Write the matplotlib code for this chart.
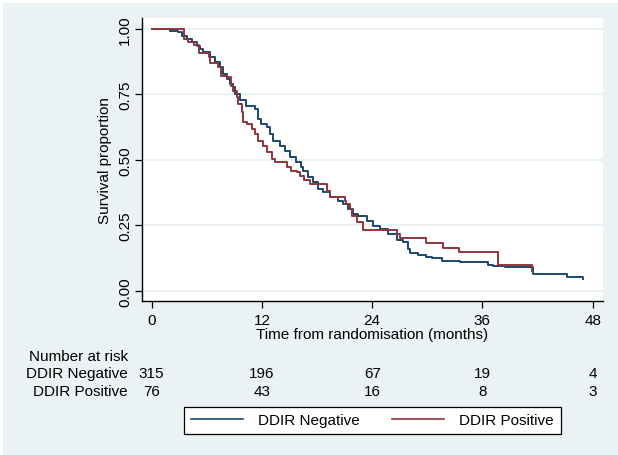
import matplotlib
matplotlib.use("Agg")
import matplotlib.pyplot as plt
from matplotlib.lines import Line2D
from matplotlib.patches import Rectangle

plt.rcParams['font.family'] = ['Liberation Sans', 'DejaVu Sans']

# ---- data ----
neg_time = [0, 2.0, 2.9, 3.3, 3.8, 4.35, 4.9, 5.3, 5.6, 6.35, 6.9, 7.45, 7.8, 8.2,
            8.55, 8.85, 9.1, 9.6, 10.3, 11.2, 11.6, 11.95, 12.5, 12.9, 13.25, 13.95,
            14.5, 15.05, 15.75, 16.2, 16.5, 17.05, 17.6, 18.15, 18.7, 19.4, 20.3,
            20.85, 21.4, 21.95, 22.5, 23.4, 24.1, 24.85, 25.75, 26.7, 27.4, 27.9,
            28.1, 29.0, 29.9, 30.5, 31.6, 33.6, 36.6, 37.2, 38.5, 41.5, 45.2, 46.9]
neg_surv = [1.0, .994, .987, .974, .962, .949, .936, .924, .911, .892, .873, .854,
            .828, .809, .790, .777, .752, .730, .707, .694, .656, .637, .624, .599,
            .573, .554, .535, .510, .490, .474, .459, .436, .414, .389, .376, .357,
            .344, .331, .312, .293, .287, .267, .248, .236, .217, .194, .185, .159,
            .143, .138, .130, .124, .115, .108, .099, .093, .089, .064, .051, .045]

pos_time = [0, 3.55, 4.0, 4.6, 5.1, 5.2, 6.2, 6.4, 7.25, 7.55, 8.15, 8.6, 8.9, 9.25,
            9.43, 9.8, 9.97, 10.34, 10.9, 11.24, 11.6, 12.15, 12.5, 13.06, 13.4, 14.7,
            15.2, 15.78, 16.1, 16.6, 17.2, 19.1, 19.4, 21.0, 21.2, 21.6, 21.8, 22.3,
            23.0, 26.7, 27.0, 29.9, 31.7, 33.4, 37.7, 41.4]
pos_surv = [1.0, .962, .949, .940, .924, .907, .892, .869, .856, .822, .815, .783,
            .764, .739, .713, .682, .643, .637, .618, .599, .573, .554, .529, .503,
            .490, .472, .459, .452, .440, .424, .408, .382, .357, .344, .331, .312,
            .287, .261, .233, .217, .200, .182, .163, .147, .099, .076]

groups = ["DDIR Negative", "DDIR Positive"]
risk_times = [0, 12, 24, 36, 48]
risk_neg = [315, 196, 67, 19, 4]
risk_pos = [76, 43, 16, 8, 3]
y_ticks = [0.0, 0.25, 0.5, 0.75, 1.0]
y_ticklabels = ["0.00", "0.25", "0.50", "0.75", "1.00"]

BG = "#EAF2F3"
BLUE = "#1a476f"
RED = "#90353b"
W, H = 618, 456
FS = 11

fig = plt.figure(figsize=(W / 100, H / 100), dpi=100)
fig.patch.set_facecolor("white")
fig.patches.append(Rectangle((3 / W, 0), 1, 1 - 4 / H, transform=fig.transFigure,
                             facecolor=BG, edgecolor="none", zorder=-10))

L, R, T, B = 141.7, 602.7, 18.5, 301.7
ax = fig.add_axes([L / W, 1 - B / H, (R - L) / W, (B - T) / H])
ax.set_facecolor("white")

ax.step(neg_time, neg_surv, where="post", color=BLUE, lw=1.4, zorder=3)
ax.step(pos_time, pos_surv, where="post", color=RED, lw=1.4, zorder=3)

ax.set_xlim(-1.088, 49.09)
ax.set_ylim(-0.0382, 1.044)
ax.set_xticks(risk_times)
ax.set_xticklabels([str(t) for t in risk_times], fontsize=FS)
ax.set_yticks(y_ticks)
ax.set_yticklabels(y_ticklabels, fontsize=FS, rotation=90, va="center")
ax.tick_params(axis="both", direction="out", length=5, width=0.9, color="black")
ax.tick_params(axis="x", pad=4)
ax.tick_params(axis="y", pad=2)
ax.grid(axis="y", color=BG, lw=1.5, zorder=0)
ax.set_axisbelow(True)
for s in ["top", "right"]:
    ax.spines[s].set_visible(False)
for s in ["left", "bottom"]:
    ax.spines[s].set_linewidth(1.0)
    ax.spines[s].set_color("black")

ax.set_ylabel("Survival proportion", fontsize=FS)
ax.yaxis.set_label_coords((112.5 - L) / (R - L), 0.5)

def fy(py):
    return 1 - py / H

fig.text(372.2 / W, fy(335), "Time from randomisation (months)", fontsize=FS,
         ha="center", va="center")

# number at risk table
xlab = 128 / W
fig.text(xlab, fy(357.3), "Number at risk", fontsize=FS, ha="right", va="center")
for lbl, vals, py in [(groups[0], risk_neg, 374), (groups[1], risk_pos, 392)]:
    fig.text(xlab, fy(py), lbl, fontsize=FS, ha="right", va="center")
    for t, v in zip(risk_times, vals):
        px = ax.transData.transform((t, 0))[0]
        fig.text(px / W, fy(py), str(v), fontsize=FS, ha="center", va="center")

handles = [Line2D([], [], color=BLUE, lw=1.2), Line2D([], [], color=RED, lw=1.2)]
leg = fig.legend(handles, groups, loc="center", bbox_to_anchor=(372.2 / W, fy(421.5)),
                 ncol=2, fontsize=FS, frameon=True, fancybox=False, edgecolor="black",
                 facecolor="white", framealpha=1, handlelength=3.4, handletextpad=1.0,
                 columnspacing=2.1, borderpad=0.45)
leg.get_frame().set_linewidth(0.9)

fig.savefig("out.png", dpi=100, facecolor=fig.get_facecolor())
